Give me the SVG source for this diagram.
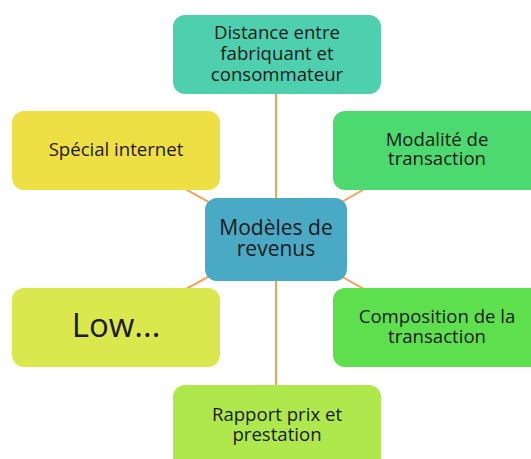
<svg xmlns="http://www.w3.org/2000/svg" width="531" height="459" viewBox="0 0 531 459">
<style>
.t{font-family:"Open Sans","Noto Sans","DejaVu Sans",sans-serif;fill:#1a1a1a;text-anchor:middle;font-size:18.6px}
.c{stroke:#f5a05a;stroke-width:2;fill:none}
</style>
<rect width="531" height="459" fill="#ffffff"/>
<g id="connectors">
<line class="c" x1="276" y1="239.5" x2="276" y2="55"/>
<line class="c" x1="276" y1="239.5" x2="276" y2="420"/>
<line class="c" x1="276" y1="239.5" x2="116" y2="150.5"/>
<line class="c" x1="276" y1="239.5" x2="432" y2="150.5"/>
<line class="c" x1="276" y1="239.5" x2="116" y2="327.5"/>
<line class="c" x1="276" y1="239.5" x2="432" y2="327.5"/>
</g>
<g id="n-top">
<rect x="173" y="15" width="208" height="79" rx="12" fill="#4ecfae"/>
<text class="t" x="277" y="39">Distance entre</text>
<text class="t" x="277" y="60">fabriquant et</text>
<text class="t" x="277" y="81">consommateur</text>
</g>
<g id="n-special">
<rect x="12" y="111" width="208" height="79" rx="12" fill="#eedf45"/>
<text class="t" x="116" y="156">Spécial internet</text>
</g>
<g id="n-modalite">
<rect x="333" y="111" width="210" height="79" rx="12" fill="#4cd96f"/>
<text class="t" x="437" y="146">Modalité de</text>
<text class="t" x="437" y="165">transaction</text>
</g>
<g id="n-center">
<rect x="205" y="198" width="142" height="83" rx="12" fill="#4aa9c4"/>
<text class="t" style="font-size:21px" x="276" y="235">Modèles de</text>
<text class="t" style="font-size:21px" x="276" y="256">revenus</text>
</g>
<g id="n-low">
<rect x="12" y="288" width="208" height="79" rx="12" fill="#dbe84d"/>
<text class="t" style="font-size:33px" x="116" y="337">Low...</text>
</g>
<g id="n-composition">
<rect x="333" y="288" width="210" height="79" rx="12" fill="#5ee04e"/>
<text class="t" x="437" y="323">Composition de la</text>
<text class="t" x="437" y="343">transaction</text>
</g>
<g id="n-rapport">
<rect x="173" y="385" width="208" height="85" rx="12" fill="#aee84c"/>
<text class="t" x="277" y="421">Rapport prix et</text>
<text class="t" x="277" y="441">prestation</text>
</g>
</svg>
